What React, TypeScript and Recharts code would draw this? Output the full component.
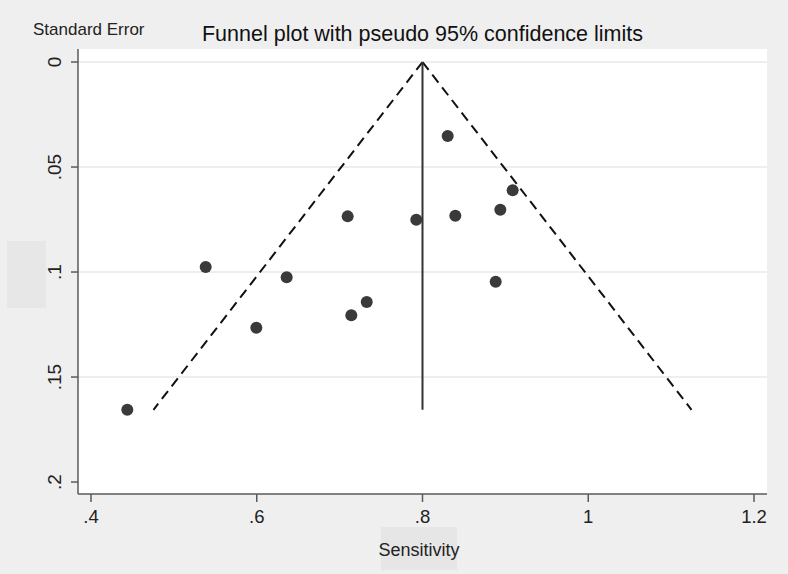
import React from "react";
import { ScatterChart, Scatter, XAxis, YAxis, CartesianGrid } from "recharts";

// Study estimates: sensitivity vs standard error
const sensitivity = [0.8304, 0.9088, 0.8939, 0.7097, 0.7925, 0.8396, 0.5384, 0.6361, 0.8883, 0.7327, 0.7141, 0.5995, 0.4438];
const standardError = [0.0352, 0.0611, 0.0703, 0.0735, 0.0751, 0.0732, 0.0976, 0.1025, 0.1046, 0.1143, 0.1206, 0.1265, 0.1656];

// Pseudo 95% confidence limits and pooled estimate
const pooled = 0.8;
const maxSE = 0.1656;
const lowerLimitAtMaxSE = 0.4754;
const upperLimitAtMaxSE = 1.1246;

const xTicks = [0.4, 0.6, 0.8, 1, 1.2];
const yTicks = [0, 0.05, 0.1, 0.15, 0.2];
const gridValues = [0, 0.05, 0.1, 0.15];

const points = sensitivity.map((s, i) => ({ x: s, y: standardError[i] }));
const leftLimit = [{ x: pooled, y: 0 }, { x: lowerLimitAtMaxSE, y: maxSE }];
const rightLimit = [{ x: pooled, y: 0 }, { x: upperLimitAtMaxSE, y: maxSE }];
const pooledLine = [{ x: pooled, y: 0 }, { x: pooled, y: maxSE }];

const FONT = '"Liberation Sans", Arial, Helvetica, sans-serif';
const AXIS = "#5a5a5a";

const fmt = (v: number) => {
  if (v === 0) return "0";
  const s = String(v);
  return s.startsWith("0.") ? s.slice(1) : s;
};

const YTick = (props: any) => {
  const { x, y, payload } = props;
  const cx = x - 14;
  return (
    <text
      x={cx}
      y={y}
      transform={`rotate(-90, ${cx}, ${y})`}
      textAnchor="middle"
      dominantBaseline="central"
      fontFamily={FONT}
      fontSize={19}
      fill="#222"
    >
      {fmt(payload.value)}
    </text>
  );
};

const XTick = (props: any) => {
  const { x, payload } = props;
  return (
    <text
      x={x}
      y={523}
      textAnchor="middle"
      fontFamily={FONT}
      fontSize={18.5}
      fill="#222"
    >
      {fmt(payload.value)}
    </text>
  );
};

const Dot = (props: any) => {
  const { cx, cy } = props;
  return <circle cx={cx} cy={cy} r={6} fill="#3a3a3a" />;
};

const NoShape = () => <g />;

export default function App() {
  return (
    <div
      style={{
        position: "absolute",
        left: 0,
        top: 0,
        width: 788,
        height: 574,
        background: "#efefef",
        fontFamily: FONT,
      }}
    >
      <div style={{ position: "absolute", left: 7, top: 241, width: 39, height: 67, background: "#e7e7e7" }} />
      <div style={{ position: "absolute", left: 381, top: 527, width: 76, height: 43, background: "#e6e6e6" }} />
      <ScatterChart
        width={788}
        height={574}
        margin={{ top: 49, right: 21, bottom: 0, left: 0 }}
        style={{ position: "absolute", left: 0, top: 0 }}
      >
        <CartesianGrid
          horizontal={true}
          vertical={false}
          fill="#ffffff"
          stroke="#e9e9e9"
          strokeWidth={1.5}
          horizontalValues={gridValues}
        />
        <XAxis
          type="number"
          dataKey="x"
          domain={[0.3843, 1.2157]}
          ticks={xTicks}
          allowDataOverflow
          height={80}
          tickSize={8}
          tick={<XTick />}
          axisLine={{ stroke: AXIS, strokeWidth: 1.5 }}
          tickLine={{ stroke: AXIS, strokeWidth: 1.5 }}
        />
        <YAxis
          type="number"
          dataKey="y"
          reversed
          domain={[-0.0062, 0.2057]}
          ticks={yTicks}
          allowDataOverflow
          width={78}
          tickSize={7}
          tick={<YTick />}
          axisLine={{ stroke: AXIS, strokeWidth: 1.5 }}
          tickLine={{ stroke: AXIS, strokeWidth: 1.5 }}
        />
        <Scatter
          data={leftLimit}
          line={{ stroke: "#111", strokeWidth: 2, strokeDasharray: "10 6" }}
          shape={<NoShape />}
          isAnimationActive={false}
        />
        <Scatter
          data={rightLimit}
          line={{ stroke: "#111", strokeWidth: 2, strokeDasharray: "10 6" }}
          shape={<NoShape />}
          isAnimationActive={false}
        />
        <Scatter
          data={pooledLine}
          line={{ stroke: "#333", strokeWidth: 2 }}
          shape={<NoShape />}
          isAnimationActive={false}
        />
        <Scatter data={points} shape={<Dot />} isAnimationActive={false} />
      </ScatterChart>
      <div
        style={{
          position: "absolute",
          left: 0,
          width: 845,
          top: 23.5,
          fontSize: 21.5,
          lineHeight: "21.5px",
          textAlign: "center",
          color: "#111",
          whiteSpace: "nowrap",
        }}
      >
        Funnel plot with pseudo 95% confidence limits
      </div>
      <div
        style={{
          position: "absolute",
          left: 33,
          top: 20.5,
          fontSize: 17,
          lineHeight: "17px",
          color: "#222",
          whiteSpace: "nowrap",
        }}
      >
        Standard Error
      </div>
      <div
        style={{
          position: "absolute",
          left: 319,
          width: 200,
          top: 540.5,
          fontSize: 18,
          lineHeight: "18px",
          textAlign: "center",
          color: "#222",
          whiteSpace: "nowrap",
        }}
      >
        Sensitivity
      </div>
    </div>
  );
}
